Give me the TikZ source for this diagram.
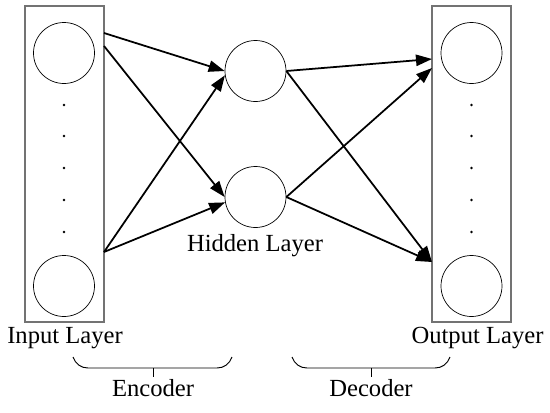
\documentclass[tikz,border=0pt]{standalone}
\usepackage{fontspec}
\setmainfont{Liberation Serif}
\usetikzlibrary{arrows.meta,positioning,calc}

\begin{document}
\begin{tikzpicture}[
  x=0.03cm, y=-0.03cm,
  layerbox/.style={rectangle, draw=black!55, line width=0.9pt,
                   minimum width=2.37cm, minimum height=9.48cm, inner sep=0pt},
  neuron/.style={circle, draw=black, line width=0.6pt,
                 minimum size=1.83cm, inner sep=0pt},
  dotnode/.style={circle, fill=black, inner sep=0pt, minimum size=2.4pt},
  lbl/.style={font=\fontsize{21}{25}\selectfont, anchor=base, inner sep=0pt},
  arr/.style={-{Triangle[length=0.48cm, width=0.34cm]}, line width=1.5pt},
  brc/.style={line width=0.8pt}
]
\useasboundingbox (0,0) rectangle (550,413);

%% Input layer
\node[layerbox] (inbox) at (64.5,164) {};
\node[neuron] (in1) at (64,53) {};
\node[neuron] (in2) at (64,286) {};
\foreach \y [count=\i] in {105,136,168,200,232}
  \node[dotnode] (indot\i) at (64,\y) {};
\node[lbl] (inlbl) at (65,343) {Input Layer};

%% Hidden layer
\node[neuron] (hid1) at (255.5,71) {};
\node[neuron] (hid2) at (255.5,197) {};
\node[lbl] (hidlbl) at (255,251) {Hidden Layer};

%% Output layer
\node[layerbox] (outbox) at (471.5,164) {};
\node[neuron] (out1) at (471.5,53) {};
\node[neuron] (out2) at (471.5,286) {};
\foreach \y [count=\i] in {105,136,168,200,232}
  \node[dotnode] (outdot\i) at (471.5,\y) {};
\node[lbl] (outlbl) at (477.5,343) {Output Layer};

%% Connector ends on the box edges
\coordinate (ina) at (104,33);
\coordinate (inb) at (104,46);
\coordinate (inc) at (104,252);
\coordinate (outa) at (432,59);
\coordinate (outb) at (432,68);
\coordinate (outc) at (432,262);

%% Encoder arrows
\draw[arr] (ina) -- (hid1.west);
\draw[arr] (inb) -- (hid2.west);
\draw[arr] (inc) -- (hid1.188);
\draw[arr] (inc) -- (hid2.190);

%% Decoder arrows
\draw[arr] (hid1.east) -- (outa);
\draw[arr] (hid1.east) -- (outc);
\draw[arr] (hid2.east) -- (outb);
\draw[arr] (hid2.east) -- (outc);

%% Braces
\draw[brc] (73,357) to[out=-70,in=180] (88,368) -- (217,368)
  to[out=0,in=-110] (232,357);
\draw[brc] (153,368) -- (153,377);
\node[lbl] (enclbl) at (153,396) {Encoder};

\draw[brc] (292,357) to[out=-70,in=180] (307,368) -- (435,368)
  to[out=0,in=-110] (450,357);
\draw[brc] (371,368) -- (371,377);
\node[lbl] (declbl) at (371,396) {Decoder};

\end{tikzpicture}
\end{document}
